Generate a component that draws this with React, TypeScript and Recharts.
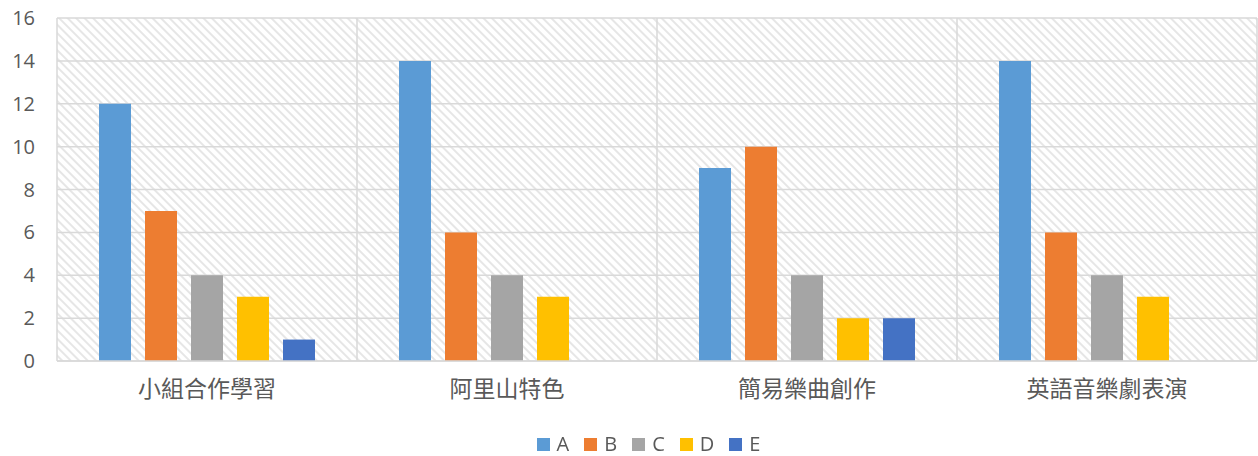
import { Bar, BarChart, CartesianGrid, Legend, XAxis, YAxis } from 'recharts';

const categories = ['小組合作學習', '阿里山特色', '簡易樂曲創作', '英語音樂劇表演'];
const seriesA = [12, 14, 9, 14];
const seriesB = [7, 6, 10, 6];
const seriesC = [4, 4, 4, 4];
const seriesD = [3, 3, 2, 3];
const seriesE = [1, null, 2, null];
const yTicks = [0, 2, 4, 6, 8, 10, 12, 14, 16];

const series = [
  { key: 'A', color: '#5B9BD5' },
  { key: 'B', color: '#ED7D31' },
  { key: 'C', color: '#A5A5A5' },
  { key: 'D', color: '#FFC000' },
  { key: 'E', color: '#4472C4' },
];

const data = categories.map((name, i) => ({
  name,
  A: seriesA[i],
  B: seriesB[i],
  C: seriesC[i],
  D: seriesD[i],
  E: seriesE[i],
}));

const textColor = '#595959';
const gridColor = '#d9d9d9';

const renderLegend = () => (
  <div
    style={{
      display: 'flex',
      justifyContent: 'center',
      alignItems: 'center',
      height: 24,
      paddingLeft: 40,
      fontFamily: 'Open Sans, sans-serif',
      fontSize: 20,
      lineHeight: '24px',
      color: textColor,
    }}
  >
    {series.map((s, i) => (
      <div
        key={s.key}
        style={{ display: 'flex', alignItems: 'center', marginRight: i < series.length - 1 ? 15 : 0 }}
      >
        <span style={{ display: 'inline-block', width: 13, height: 13, background: s.color, marginRight: 7 }} />
        <span>{s.key}</span>
      </div>
    ))}
  </div>
);

export default function App() {
  return (
    <div style={{ position: 'fixed', left: 0, top: 0, background: '#fff' }}>
      <BarChart
        width={1258}
        height={456}
        data={data}
        margin={{ top: 18, right: 1, left: 0, bottom: 0 }}
        barCategoryGap='14%'
        barGap={14}
      >
        <defs>
          <pattern id='hatch' width='6' height='6' patternUnits='userSpaceOnUse' patternTransform='rotate(45)'>
            <line x1='0' y1='1' x2='6' y2='1' stroke='#e3e3e3' strokeWidth='1.8' />
          </pattern>
        </defs>
        <CartesianGrid
          stroke={gridColor}
          strokeWidth={1.5}
          fill='url(#hatch)'
          fillOpacity={1}
          verticalCoordinatesGenerator={({ offset }: any) =>
            [0, 1, 2, 3, 4].map((i) => offset.left + (i * offset.width) / 4)
          }
        />
        <XAxis
          dataKey='name'
          height={71}
          tickLine={false}
          axisLine={{ stroke: gridColor, strokeWidth: 1.5 }}
          tickSize={0}
          tickMargin={20}
          tick={{ fill: textColor, fontSize: 23, fontFamily: 'Noto Sans CJK TC, sans-serif' }}
        />
        <YAxis
          width={57}
          domain={[0, 16]}
          ticks={yTicks}
          axisLine={false}
          tickLine={false}
          tickSize={0}
          tickMargin={22}
          tick={{ fill: textColor, fontSize: 20, fontFamily: 'Open Sans, sans-serif' }}
        />
        <Legend verticalAlign='bottom' height={24} content={renderLegend} />
        {series.map((s) => (
          <Bar key={s.key} dataKey={s.key} fill={s.color} isAnimationActive={false} />
        ))}
      </BarChart>
    </div>
  );
}
